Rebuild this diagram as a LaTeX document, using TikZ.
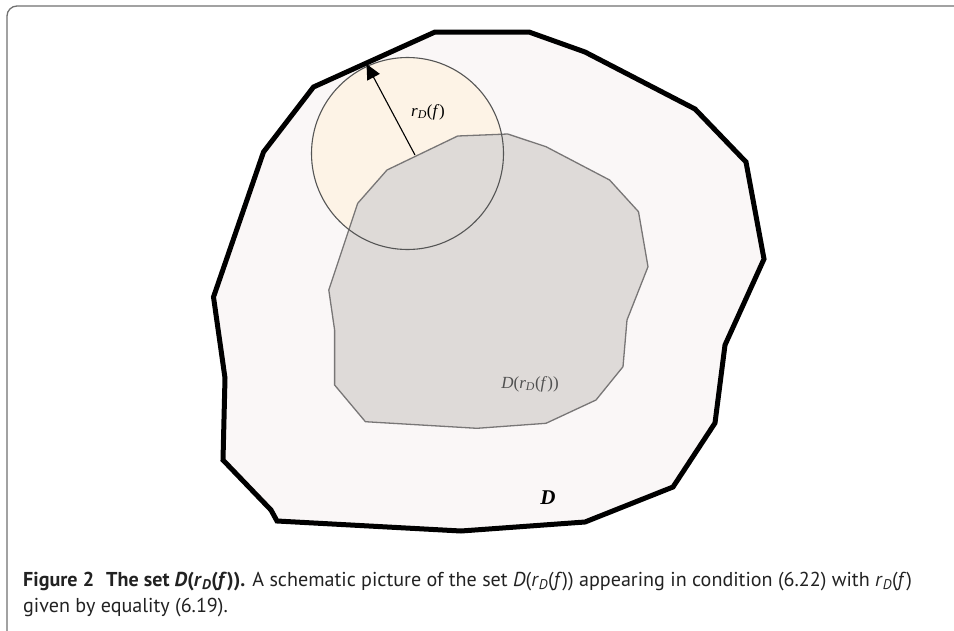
\documentclass[tikz,border=0pt]{standalone}
\usepackage{fontspec}
\setmainfont{PT Sans}
\newfontfamily\labelfont{Liberation Serif}
\usetikzlibrary{arrows.meta}

\definecolor{regionfill}{HTML}{FAF7F7}
\definecolor{innerfill}{HTML}{DCD8D6}
\definecolor{innerline}{HTML}{787676}
\definecolor{ballfill}{HTML}{FDF3E6}
\definecolor{ballline}{HTML}{555555}
\definecolor{framecol}{HTML}{707070}
\definecolor{labelgray}{HTML}{505050}
\definecolor{captext}{HTML}{222222}

\newcommand{\rDf}{\textit{r}\textsubscript{\textit{D}}(\textit{f})}

\tikzset{
  region/.style={draw=black, line width=5pt, line join=miter, fill=regionfill},
  subregion/.style={draw=innerline, line width=1.3pt, line join=miter},
  ball/.style={draw=ballline, line width=1.1pt},
  radius arrow/.style={draw=black, line width=1.1pt, -{Triangle[length=15pt,width=14pt]}},
  mathlabel/.style={inner sep=0pt, font=\labelfont\fontsize{17}{20}\selectfont},
  captionline/.style={anchor=base west, inner sep=0pt, text=captext, font=\fontsize{20.1}{24}\selectfont}
}

\begin{document}
\begin{tikzpicture}[x=1pt, y=-1pt]
  \useasboundingbox (0,0) rectangle (954,630);
  \clip (0,0) rectangle (954,630);

  % frame of the figure panel
  \draw[framecol, line width=1.3pt, rounded corners=10pt] (7,6) rectangle (980,660);

  % the domain D
  \draw[region] (313.5,87) -- (435,32) -- (529,32) -- (585,52) -- (695,109)
    -- (746,162) -- (764,259) -- (725,345) -- (715,423) -- (673,487)
    -- (585,522) -- (461,531) -- (277,521) -- (271,510) -- (223,460)
    -- (225,378) -- (213.5,297) -- (263.5,152) -- cycle;

  % ball of radius r_D(f), filled part
  \coordinate (ctr) at (407.5,153.5);
  \fill[ballfill] (ctr) circle[radius=96];

  % the subset D(r_D(f))
  \fill[innerfill, opacity=0.92] (457.7,136) -- (507.7,134) -- (546,146.7) -- (609.6,180)
    -- (638.5,211.7) -- (648,266.7) -- (627,320) -- (623,366.7) -- (596,400)
    -- (546,423.3) -- (477,428.3) -- (365.4,421.7) -- (334.6,385) -- (334.6,330)
    -- (328.8,290) -- (357.7,203.3) -- (387,170) -- cycle;
  \draw[subregion] (457.7,136) -- (507.7,134) -- (546,146.7) -- (609.6,180)
    -- (638.5,211.7) -- (648,266.7) -- (627,320) -- (623,366.7) -- (596,400)
    -- (546,423.3) -- (477,428.3) -- (365.4,421.7) -- (334.6,385) -- (334.6,330)
    -- (328.8,290) -- (357.7,203.3) -- (387,170) -- cycle;

  % ball outline
  \draw[ball] (ctr) circle[radius=96];

  % radius arrow
  \coordinate (foot) at (415,155);
  \coordinate (tip) at (366.5,64);
  \draw[radius arrow] (foot) -- (tip);

  % labels
  \node[mathlabel] (rlab) at (428,112) {\rDf};
  \node[mathlabel, text=labelgray] (sublab) at (530,384) {\textit{D}(\rDf)};
  \node[inner sep=0pt, font=\labelfont\bfseries\itshape\fontsize{21}{24}\selectfont] (Dlab) at (548,498) {D};

  % caption
  \node[captionline] (cap1) at (23,586)
    {\textbf{Figure 2\hspace{0.6em}The set \textit{D}(\rDf).}
     A schematic picture of the set \textit{D}(\rDf) appearing in condition (6.22) with \rDf};
  \node[captionline] (cap2) at (23,612) {given by equality (6.19).};
\end{tikzpicture}
\end{document}
